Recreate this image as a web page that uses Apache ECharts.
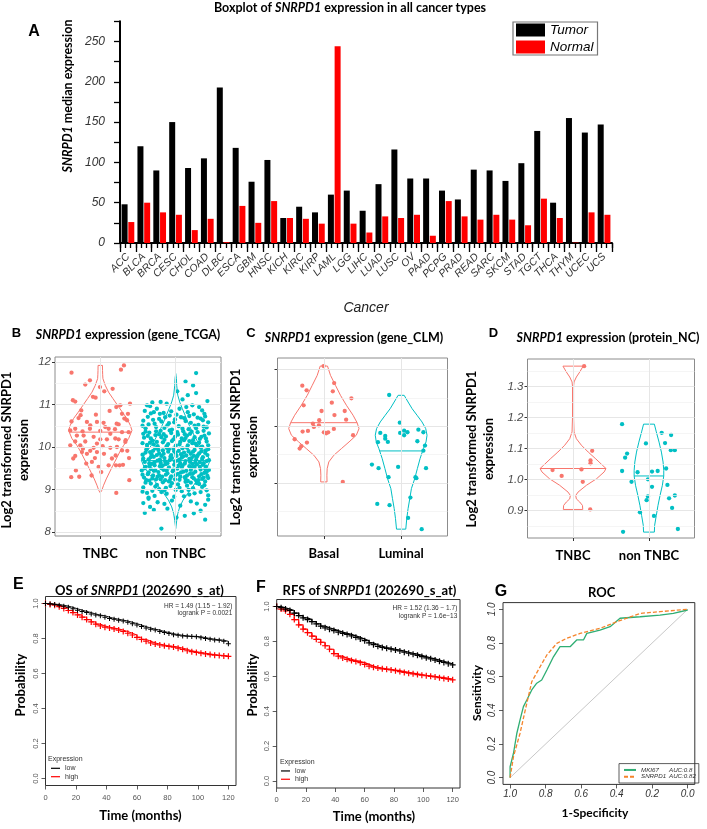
<!DOCTYPE html>
<html><head><meta charset="utf-8">
<script src="https://cdn.jsdelivr.net/npm/echarts@6/dist/echarts.min.js"></script>
<style>html,body{margin:0;padding:0;background:#fff}#c{width:707px;height:829px}</style>
</head><body><div id="c"></div><script>
// ---------- Panel A ----------
const cancerTypes = ['ACC','BLCA','BRCA','CESC','CHOL','COAD','DLBC','ESCA','GBM','HNSC','KICH','KIRC','KIRP','LAML','LGG','LIHC','LUAD','LUSC','OV','PAAD','PCPG','PRAD','READ','SARC','SKCM','STAD','TGCT','THCA','THYM','UCEC','UCS'];
const tumorMedian = [48,120,90,150,93,105,193,118,76,103,31,45,38,60,65,40,73,116,80,80,65,54,91,90,77,99,139,50,155,137,147];
const normalMedian = [26,50,38,35,16,30,1,46,25,52,31,30,24,244,24,13,33,31,35,9,52,33,29,35,29,22,55,31,0.5,38,35];

// ---------- Panel B (gene_TCGA) ----------
const tcgaGroups = ['TNBC','non TNBC'];
const tcgaTnbcMedian = 10.35, tcgaNonTnbcMedian = 9.68;
const tcgaTnbcViolin = [[11.92,0.029],[11.8,0.03],[11.7,0.032],[11.61,0.035],[11.45,0.066],[11.29,0.11],[11.14,0.168],[10.98,0.23],[10.82,0.292],[10.67,0.354],[10.51,0.398],[10.39,0.42],[10.2,0.376],[10.04,0.31],[9.88,0.257],[9.72,0.212],[9.57,0.168],[9.41,0.124],[9.25,0.08],[9.1,0.044],[8.98,0.02],[8.92,0]];
const tcgaNonTnbcViolin = [[11.73,0],[11.61,0.009],[11.45,0.013],[11.22,0.027],[11.06,0.053],[10.9,0.088],[10.75,0.124],[10.59,0.159],[10.43,0.2],[10.28,0.243],[10.12,0.292],[9.96,0.354],[9.8,0.42],[9.69,0.456],[9.53,0.42],[9.37,0.354],[9.22,0.288],[9.06,0.221],[8.9,0.155],[8.75,0.097],[8.59,0.053],[8.43,0.027],[8.27,0.013],[8.08,0]];
const tcgaTnbcPoints = [[0.314,11.92],[0.274,11.82],[-0.381,11.75],[-0.199,11.47],[-0.004,11.41],[0.164,11.37],[-0.097,11.18],[-0.062,11.16],[-0.363,11.1],[-0.332,11.07],[0.053,11.31],[0.394,11.02],[0.265,10.98],[0.212,10.94],[-0.252,10.86],[0.124,10.85],[-0.058,10.76],[0.288,10.78],[0.367,10.78],[-0.261,10.75],[-0.288,10.68],[0.354,10.63],[-0.381,10.6],[0.319,10.67],[-0.177,10.59],[-0.044,10.59],[0.044,10.57],[0.217,10.55],[0.243,10.53],[-0.332,10.43],[-0.137,10.43],[0.111,10.43],[-0.398,10.39],[-0.235,10.37],[0,10.38],[0.288,10.35],[0.195,10.42],[-0.31,10.27],[-0.088,10.24],[0,10.18],[0.088,10.18],[0.199,10.2],[0.243,10.18],[0.336,10.16],[-0.199,10.13],[-0.332,10.13],[-0.044,10.08],[0.332,10.12],[-0.088,9.98],[0.031,10.02],[-0.23,9.96],[0.133,9.98],[-0.133,9.91],[0.288,9.92],[-0.243,9.88],[0.358,9.91],[0.049,9.84],[0.204,9.8],[-0.332,9.79],[-0.071,9.74],[-0.358,9.73],[0.381,9.74],[0.155,9.73],[-0.186,9.61],[0.208,9.57],[0.301,9.58],[0.257,9.57],[-0.022,9.53],[-0.323,9.45],[0.013,9.41],[-0.385,9.29],[-0.279,9.3],[-0.115,9.33],[0.385,9.22],[0.212,8.92],[-0.137,11.57],[-0.221,10.27],[0.133,10.31],[-0.133,10.51],[0.066,10.47],[-0.265,10.04],[0.221,10.0],[-0.044,9.88],[-0.177,9.84],[0.111,9.57],[-0.111,9.65],[-0.398,10.04],[0.376,10.35]];
const tcgaNonTnbcPoints = [
[0.27,11.74],[0.13,11.54],[0.23,11.45],[0.27,11.27],[0.16,11.22],[-0.38,10.98],[-0.2,11.06],[-0.34,10.96],[0.31,10.94],[0.14,10.94],[0.16,10.82],[-0.29,10.82],[0.38,10.78],[-0.12,11.02],[0.05,10.9],[-0.41,10.85],[0.42,11.08],[-0.06,10.84],[0.22,10.98],[-0.25,10.9],[0.35,10.86],[0.09,11.12],[-0.16,10.8],[0.02,11.31],[-0.31,11.05],
[-0.43,10.62],[-0.37,10.71],[-0.28,10.55],[-0.22,10.66],[-0.15,10.45],[-0.08,10.74],[-0.02,10.58],[0.04,10.49],[0.11,10.68],[0.17,10.42],[0.24,10.77],[0.3,10.52],[0.36,10.63],[0.41,10.46],[-0.4,10.44],[-0.33,10.79],[-0.19,10.6],[-0.11,10.51],[0.07,10.7],[0.2,10.57],[0.27,10.44],[0.39,10.72],[-0.26,10.47],[0.13,10.61],[-0.05,10.41],[0.33,10.67],[-0.36,10.53],[0.01,10.76],[0.25,10.5],[-0.14,10.7],[0.43,10.58],[-0.44,10.5],[0.09,10.43],[-0.21,10.78],[0.18,10.73],[-0.3,10.64],[0.37,10.48],[-0.09,10.56],[0.29,10.69],[-0.01,10.65],
[-0.42,10.22],[-0.38,10.05],[-0.35,10.34],[-0.31,10.15],[-0.27,10.28],[-0.24,10.02],[-0.2,10.38],[-0.17,10.11],[-0.13,10.25],[-0.1,10.07],[-0.06,10.33],[-0.03,10.18],[0.0,10.03],[0.03,10.29],[0.06,10.12],[0.1,10.37],[0.13,10.21],[0.16,10.04],[0.19,10.31],[0.23,10.16],[0.26,10.08],[0.29,10.35],[0.32,10.19],[0.35,10.01],[0.38,10.27],[0.41,10.13],[0.44,10.32],[-0.44,10.09],[-0.4,10.36],[-0.33,10.2],[-0.29,10.06],[-0.22,10.3],[-0.15,10.17],[-0.08,10.39],[-0.01,10.24],[0.05,10.06],[0.12,10.3],[0.18,10.14],[0.25,10.23],[0.31,10.1],[0.37,10.38],[0.43,10.04],[-0.37,10.26],[-0.25,10.12],[-0.12,10.02],[0.08,10.2],[0.21,10.36],[0.34,10.24],[-0.19,10.23],[0.15,10.27],[-0.05,10.14],[0.28,10.03],[-0.34,10.1],[0.4,10.2],[-0.26,10.37],[0.02,10.35],[-0.16,10.3],[0.22,10.09],[-0.43,10.31],[0.11,10.16],
[-0.44,9.82],[-0.41,9.65],[-0.39,9.94],[-0.36,9.71],[-0.34,9.88],[-0.31,9.61],[-0.29,9.77],[-0.27,9.97],[-0.24,9.68],[-0.22,9.85],[-0.2,9.63],[-0.17,9.92],[-0.15,9.74],[-0.13,9.6],[-0.1,9.89],[-0.08,9.69],[-0.06,9.81],[-0.03,9.96],[-0.01,9.66],[0.01,9.79],[0.04,9.91],[0.06,9.62],[0.08,9.75],[0.11,9.87],[0.13,9.67],[0.15,9.98],[0.18,9.72],[0.2,9.84],[0.22,9.6],[0.25,9.93],[0.27,9.7],[0.29,9.8],[0.32,9.64],[0.34,9.9],[0.36,9.76],[0.39,9.86],[0.41,9.67],[0.43,9.95],[-0.43,9.73],[-0.38,9.99],[-0.33,9.76],[-0.28,9.64],[-0.23,9.93],[-0.19,9.79],[-0.14,9.66],[-0.09,9.95],[-0.05,9.74],[0.0,9.86],[0.05,9.7],[0.09,9.97],[0.14,9.8],[0.19,9.65],[0.23,9.89],[0.28,9.77],[0.33,9.99],[0.37,9.62],[0.42,9.81],[-0.4,9.87],[-0.35,9.62],[-0.3,9.91],[-0.25,9.81],[-0.21,9.7],[-0.16,9.84],[-0.11,9.62],[-0.07,9.77],[-0.02,9.9],[0.03,9.68],[0.07,9.83],[0.12,9.61],[0.17,9.9],[0.21,9.74],[0.26,9.63],[0.31,9.85],[0.35,9.72],[0.4,9.92],[0.44,9.69],[-0.12,9.98],[0.1,9.78],[-0.32,9.83],[0.24,9.79],
[-0.45,9.45],[-0.42,9.28],[-0.4,9.53],[-0.37,9.36],[-0.35,9.21],[-0.33,9.48],[-0.3,9.33],[-0.28,9.57],[-0.26,9.24],[-0.23,9.41],[-0.21,9.55],[-0.18,9.3],[-0.16,9.46],[-0.14,9.22],[-0.11,9.38],[-0.09,9.52],[-0.07,9.27],[-0.04,9.43],[-0.02,9.58],[0.0,9.34],[0.02,9.49],[0.05,9.23],[0.07,9.4],[0.09,9.56],[0.12,9.29],[0.14,9.44],[0.16,9.2],[0.19,9.37],[0.21,9.51],[0.24,9.26],[0.26,9.42],[0.28,9.59],[0.31,9.31],[0.33,9.47],[0.35,9.25],[0.38,9.39],[0.4,9.54],[0.42,9.32],[0.44,9.46],[-0.44,9.35],[-0.39,9.22],[-0.34,9.58],[-0.29,9.44],[-0.24,9.3],[-0.19,9.5],[-0.13,9.35],[-0.08,9.2],[-0.03,9.47],[0.03,9.37],[0.08,9.52],[0.13,9.25],[0.18,9.55],[0.23,9.38],[0.27,9.21],[0.32,9.53],[0.37,9.28],[0.41,9.41],[-0.41,9.5],[-0.36,9.4],[-0.31,9.26],[-0.27,9.45],[-0.22,9.33],[-0.17,9.57],[-0.12,9.45],[-0.06,9.31],[-0.01,9.24],[0.04,9.56],[0.1,9.42],[0.15,9.33],[0.2,9.46],[0.25,9.53],[0.3,9.22],[0.34,9.36],[0.39,9.48],[0.43,9.27],[-0.2,9.24],[0.06,9.3],[-0.35,9.55],[0.22,9.29],[0.36,9.58],
[-0.43,9.05],[-0.38,8.92],[-0.33,9.14],[-0.28,8.85],[-0.22,9.01],[-0.17,9.17],[-0.12,8.9],[-0.07,9.08],[-0.02,8.83],[0.03,9.12],[0.08,8.96],[0.13,9.18],[0.18,8.88],[0.23,9.03],[0.28,9.15],[0.33,8.94],[0.38,9.1],[0.43,8.86],[-0.4,9.16],[-0.31,8.97],[-0.25,9.11],[-0.15,8.98],[-0.05,9.15],[0.05,9.04],[0.15,9.09],[0.25,8.91],[0.35,9.06],[0.41,8.98],[-0.36,8.81],[-0.19,8.94],[0.0,8.99],[0.11,8.84],[0.2,9.16],[0.31,9.13],[-0.09,9.19],[-0.27,9.07],[0.39,9.19],[-0.44,8.95],[0.17,8.99],[-0.13,9.04],
[-0.19,8.08],[0.39,8.29],[0.39,8.64],[-0.34,8.59],[-0.11,8.55],[0.28,8.67],[-0.36,8.78],[0.2,8.72],[-0.24,8.7],[0.06,8.62],[-0.41,8.45],[0.33,8.5],[0.12,8.38],[-0.05,8.74],[0.43,8.76],[-0.15,8.66],[0.24,8.44],[-0.29,8.52],[0.01,8.34],[-0.43,8.68]];
const tcgaTicks = [8,9,10,11,12];
const tcgaMinorGrid = [8.5,9.5,10.5,11.5];

// ---------- Panel C (gene_CLM) ----------
const clmGroups = ['Basal','Luminal'];
const clmBasalMedian = 8.065, clmLuminalMedian = 7.566;
const clmBasalViolin = [[9.065,0.047],[8.9,0.086],[8.725,0.15],[8.548,0.215],[8.372,0.292],[8.196,0.378],[8.065,0.43],[7.96,0.455],[7.843,0.42],[7.725,0.326],[7.607,0.227],[7.49,0.129],[7.372,0.064],[7.254,0.043],[7.137,0.039],[7.019,0.041]];
const clmLuminalViolin = [[8.548,0.039],[8.43,0.09],[8.312,0.142],[8.196,0.206],[8.078,0.27],[7.96,0.318],[7.843,0.335],[7.725,0.322],[7.607,0.288],[7.43,0.245],[7.254,0.21],[7.078,0.176],[6.901,0.133],[6.725,0.112],[6.548,0.09],[6.372,0.073],[6.185,0.06]];
const clmBasalPoints = [[-0.004,9.065],[-0.279,8.718],[-0.223,8.636],[0.133,8.765],[0.116,8.619],[0.356,8.495],[-0.262,8.372],[0.103,8.418],[-0.03,8.271],[0.137,8.2],[0.27,8.271],[-0.06,8.108],[0.288,8.118],[-0.142,8.048],[-0.064,8.019],[-0.129,7.99],[0.129,7.954],[-0.275,7.907],[-0.206,7.919],[0,7.895],[0.03,7.878],[0.056,7.895],[0.378,7.843],[-0.378,7.772],[-0.219,7.713],[-0.292,7.649],[-0.313,7.607],[0.245,7.019]];
const clmLuminalPoints = [[-0.155,8.554],[-0.017,8.065],[0.039,7.924],[-0.013,7.884],[0.082,7.896],[0.039,7.843],[0.223,7.942],[0.288,7.896],[-0.27,7.884],[-0.206,7.831],[-0.206,7.783],[-0.3,7.72],[-0.172,7.725],[0.21,7.737],[0.309,7.66],[0.288,7.571],[-0.378,7.325],[-0.292,7.261],[-0.039,7.284],[0.322,7.261],[-0.163,7.102],[0.185,7.102],[0.197,7.085],[0.12,6.742],[-0.309,6.631],[-0.15,6.608],[0.09,6.384],[0.266,6.185]];
const clmTicks = [7,8,9];
const clmMinorGrid = [6.5,7.5,8.5];

// ---------- Panel D (protein_NC) ----------
const rppaGroups = ['TNBC','non TNBC'];
const rppaTnbcMedian = 1.035, rppaNonTnbcMedian = 1.011;
const rppaTnbcViolin = [[1.365,0.133],[1.346,0.088],[1.33,0.044],[1.314,0.013],[1.3,0.007],[1.2,0.007],[1.153,0.013],[1.131,0.044],[1.11,0.11],[1.088,0.2],[1.066,0.3],[1.045,0.39],[1.035,0.434],[1.024,0.41],[1.002,0.31],[0.981,0.177],[0.959,0.066],[0.948,0.035],[0.937,0.044],[0.927,0.088],[0.916,0.124],[0.903,0.128]];
const rppaNonTnbcViolin = [[1.178,0.071],[1.153,0.097],[1.12,0.133],[1.088,0.164],[1.056,0.186],[1.029,0.195],[1.011,0.195],[0.981,0.177],[0.948,0.146],[0.916,0.119],[0.884,0.097],[0.852,0.075],[0.83,0.071]];
const rppaTnbcPoints = [[0.146,1.365],[0.252,1.092],[0.23,1.061],[0.23,1.052],[-0.27,1.03],[0.111,1.032],[-0.15,1.011],[0.128,0.992],[0.226,0.903]];
const rppaNonTnbcPoints = [[-0.354,1.178],[0.292,1.143],[0.168,1.15],[0.212,1.117],[-0.04,1.116],[0.288,1.094],[0.341,1.094],[-0.288,1.083],[-0.314,1.07],[0.226,1.035],[-0.354,1.027],[-0.15,1.023],[0.04,1.025],[0.115,1.027],[-0.23,0.992],[-0.013,1.0],[0.243,0.982],[0.04,0.976],[0.341,0.948],[-0.013,0.945],[0.265,0.939],[-0.031,0.933],[0.305,0.908],[-0.119,0.894],[0.066,0.882],[-0.341,0.831],[0.381,0.84]];
const rppaTicks = [0.9,1.0,1.1,1.2,1.3];
const rppaMinorGrid = [0.85,0.95,1.05,1.15,1.25,1.35];

// ---------- Panels E, F (Kaplan-Meier) ----------
const osLow = [[0,1],[3,0.997],[6,0.994],[9,0.99],[12,0.985],[15,0.978],[18,0.97],[21,0.962],[24,0.955],[27,0.948],[30,0.94],[33,0.934],[36,0.93],[39,0.922],[42,0.915],[45,0.91],[48,0.905],[51,0.9],[54,0.893],[57,0.885],[60,0.877],[63,0.868],[66,0.86],[69,0.853],[72,0.848],[75,0.84],[78,0.834],[81,0.828],[84,0.822],[87,0.818],[90,0.815],[93,0.813],[96,0.812],[99,0.81],[102,0.805],[105,0.8],[108,0.796],[111,0.792],[114,0.79],[117,0.784],[120,0.77]];
const osHigh = [[0,1],[3,0.995],[6,0.99],[9,0.982],[12,0.972],[15,0.96],[18,0.948],[21,0.935],[24,0.922],[27,0.908],[30,0.895],[33,0.882],[36,0.872],[39,0.865],[42,0.86],[45,0.855],[48,0.848],[51,0.84],[54,0.83],[57,0.82],[60,0.807],[63,0.795],[66,0.785],[69,0.775],[72,0.768],[75,0.763],[78,0.758],[81,0.755],[84,0.751],[87,0.745],[90,0.738],[93,0.73],[96,0.725],[99,0.72],[102,0.716],[105,0.712],[108,0.708],[111,0.705],[114,0.703],[117,0.7],[120,0.698]];
const rfsLow = [[0,1],[3,0.993],[6,0.985],[9,0.977],[12,0.962],[15,0.948],[18,0.935],[21,0.925],[24,0.913],[27,0.9],[30,0.888],[33,0.878],[36,0.87],[39,0.862],[42,0.853],[45,0.846],[48,0.84],[51,0.832],[54,0.823],[57,0.814],[60,0.804],[63,0.792],[66,0.781],[69,0.772],[72,0.765],[75,0.76],[78,0.755],[81,0.75],[84,0.745],[87,0.738],[90,0.732],[93,0.727],[96,0.72],[99,0.713],[102,0.706],[105,0.7],[108,0.693],[111,0.686],[114,0.679],[117,0.672],[120,0.665]];
const rfsHigh = [[0,1],[3,0.985],[6,0.975],[9,0.955],[12,0.925],[15,0.895],[18,0.87],[21,0.85],[24,0.83],[27,0.812],[30,0.795],[33,0.775],[36,0.755],[39,0.73],[42,0.715],[45,0.705],[48,0.697],[51,0.69],[54,0.685],[57,0.678],[60,0.668],[63,0.658],[66,0.652],[69,0.647],[72,0.643],[75,0.64],[78,0.636],[81,0.632],[84,0.627],[87,0.622],[90,0.618],[93,0.614],[96,0.61],[99,0.606],[102,0.603],[105,0.6],[108,0.596],[111,0.592],[114,0.588],[117,0.584],[120,0.58]];
const timeTicks = [0,20,40,60,80,100,120];
const probTicks = [0,0.2,0.4,0.6,0.8,1.0];
const osStats = ['HR = 1.49 (1.15 \u2212 1.92)','logrank P = 0.0021'];
const rfsStats = ['HR = 1.52 (1.36 \u2212 1.7)','logrank P = 1.6e\u221213'];

// ---------- Panel G (ROC) ----------
const rocMki67 = [[1,0],[1,0.065],[0.981,0.145],[0.962,0.264],[0.944,0.343],[0.925,0.422],[0.906,0.461],[0.878,0.521],[0.85,0.561],[0.822,0.58],[0.793,0.64],[0.756,0.718],[0.719,0.778],[0.662,0.778],[0.625,0.818],[0.587,0.818],[0.568,0.857],[0.494,0.877],[0.437,0.897],[0.381,0.947],[0.268,0.956],[0.156,0.966],[0.081,0.976],[0,0.996],[0,1]];
const rocSnrpd1 = [[1,0],[0.981,0.125],[0.944,0.264],[0.906,0.442],[0.878,0.57],[0.831,0.659],[0.793,0.729],[0.737,0.798],[0.681,0.828],[0.606,0.857],[0.494,0.887],[0.4,0.926],[0.268,0.976],[0.156,0.986],[0.006,1],[0,1]];
const rocChance = [[1,0],[0,1]];
const rocAuc = {MKI67:'0.8', SNRPD1:'0.82'};
const rocTicks = [0,0.2,0.4,0.6,0.8,1.0];

// ================= build =================
const RED = '#F8766D', TEAL = '#00BFC4';
const BOLD = 'Lato';
const ARIAL = 'Liberation Sans';
const plusSymbol = 'path://M2,0L3,0L3,2L5,2L5,3L3,3L3,5L2,5L2,3L0,3L0,2L2,2Z';

function near(list, v) { return list.some(t => Math.abs(t - v) < 1e-6); }
function halfWidthAt(shape, v) {
  for (let i = 0; i < shape.length - 1; i++) {
    const a = shape[i], b = shape[i + 1];
    if (v <= a[0] && v >= b[0]) { const t = (a[0] - v) / (a[0] - b[0]); return a[1] + t * (b[1] - a[1]); }
  }
  return 0;
}
function violinSeries(xi, yi, center, shape, median, color) {
  return {
    type: 'custom', xAxisIndex: xi, yAxisIndex: yi, silent: true, z: 3,
    data: [[center, median]],
    renderItem: function (params, api) {
      const right = shape.map(p => api.coord([center + p[1], p[0]]));
      const left = shape.slice().reverse().map(p => api.coord([center - p[1], p[0]]));
      const hw = halfWidthAt(shape, median);
      const a = api.coord([center - hw, median]), b = api.coord([center + hw, median]);
      return { type: 'group', children: [
        { type: 'polygon', shape: { points: right.concat(left) }, style: { fill: 'none', stroke: color, lineWidth: 1 } },
        { type: 'line', shape: { x1: a[0], y1: a[1], x2: b[0], y2: b[1] }, style: { stroke: color, lineWidth: 1 } }
      ]};
    }
  };
}
function pointSeries(xi, yi, center, pts, color) {
  return { type: 'scatter', xAxisIndex: xi, yAxisIndex: yi, silent: true, z: 4,
    symbolSize: 4.3, itemStyle: { color: color, opacity: 1 },
    data: pts.map(p => [center + p[0], p[1]]) };
}
function gridLineSeries(xi, yi, major, minor, vert) {
  const d = [];
  minor.forEach(v => d.push({ yAxis: v, lineStyle: { color: '#f1f1f1', width: 0.7, type: 'solid' } }));
  major.forEach(v => d.push({ yAxis: v, lineStyle: { color: '#e6e6e6', width: 1, type: 'solid' } }));
  vert.forEach(v => d.push({ xAxis: v, lineStyle: { color: '#e6e6e6', width: 1, type: 'solid' } }));
  return { type: 'scatter', xAxisIndex: xi, yAxisIndex: yi, data: [], silent: true, z: 1,
    markLine: { silent: true, symbol: ['none', 'none'], label: { show: false }, animation: false, data: d } };
}
function violinXAxis(gi, groups) {
  return { gridIndex: gi, type: 'value', min: 0.4, max: 2.6,
    axisLine: { show: false, onZero: false }, splitLine: { show: false },
    axisTick: { show: true, customValues: [1, 2], length: 3, lineStyle: { color: '#333' } },
    axisLabel: { customValues: [1, 2], formatter: v => (Math.abs(v - 1) < 1e-6 ? groups[0] : Math.abs(v - 2) < 1e-6 ? groups[1] : ''),
      fontFamily: BOLD, fontWeight: 'bold', fontSize: 13, color: '#000', margin: 11 } };
}
function violinYAxis(gi, min, max, ticks, showLabels) {
  return { gridIndex: gi, type: 'value', min: min, max: max,
    axisLine: { show: false, onZero: false }, splitLine: { show: false },
    axisTick: { show: true, customValues: ticks, length: 3, lineStyle: { color: '#333' } },
    axisLabel: { show: showLabels, customValues: ticks, formatter: v => (near(ticks, v) ? (ticks[0] < 2 ? v.toFixed(1) : String(v)) : ''),
      fontFamily: ARIAL, fontStyle: 'italic', fontSize: 11.5, color: '#4d4d4d', margin: 4 } };
}
function rAxisX(gi, min, max, ticks, fmt, italic, fs, inverse, margin) {
  return { gridIndex: gi, type: 'value', min: min, max: max, inverse: !!inverse,
    axisLine: { show: false, onZero: false }, splitLine: { show: false },
    axisTick: { show: true, customValues: ticks, length: 4, lineStyle: { color: '#333', width: 0.8 } },
    axisLabel: { customValues: ticks, formatter: v => (near(ticks, v) ? fmt(v) : ''), fontFamily: ARIAL,
      fontStyle: italic ? 'italic' : 'normal', fontSize: fs, color: italic ? '#333' : '#555', margin: margin } };
}
function rAxisY(gi, ticks, italic, fs, margin) {
  return { gridIndex: gi, type: 'value', min: -0.04, max: 1.04,
    axisLine: { show: false, onZero: false }, splitLine: { show: false },
    axisTick: { show: true, customValues: ticks, length: 4, lineStyle: { color: '#333', width: 0.8 } },
    axisLabel: { customValues: ticks, rotate: 90, formatter: v => (near(ticks, v) ? v.toFixed(1) : ''), fontFamily: ARIAL,
      fontStyle: italic ? 'italic' : 'normal', fontSize: fs, color: italic ? '#333' : '#555', margin: margin } };
}
function txt(x, y, text, o) {
  o = o || {};
  const st = { text: text, fill: o.color || '#000', fontSize: o.size || 13, fontWeight: o.weight || 'bold',
    fontStyle: o.style || 'normal', fontFamily: o.family || BOLD,
    align: o.align || 'center', verticalAlign: 'middle', textAlign: o.align || 'center', textVerticalAlign: 'middle' };
  if (o.lineHeight) st.lineHeight = o.lineHeight;
  if (o.rich) st.rich = o.rich;
  return { type: 'text', x: x, y: y, rotation: o.rot || 0, silent: true, z: 10, style: st };
}
const italicRich = s => ({ i: { fontStyle: 'italic', fontWeight: 'bold', fontFamily: BOLD, fontSize: s } });

const minorTickSlots = cancerTypes.flatMap(c => [c + '1', c + '2', c + '3']);

const option = {
  animation: false,
  backgroundColor: '#fff',
  grid: [
    { left: 120, top: 21.3, width: 492, height: 221.7 },
    { left: 55, top: 357, width: 166, height: 179, show: true, borderColor: '#8c8c8c', borderWidth: 1 },
    { left: 277.5, top: 358, width: 170, height: 178, show: true, borderColor: '#8c8c8c', borderWidth: 1 },
    { left: 527.5, top: 359, width: 167, height: 179, show: true, borderColor: '#8c8c8c', borderWidth: 1 },
    { left: 45.5, top: 596.5, width: 190.5, height: 189, show: true, borderColor: '#333', borderWidth: 1 },
    { left: 276.7, top: 599.5, width: 183.3, height: 188.5, show: true, borderColor: '#333', borderWidth: 1 },
    { left: 503, top: 602.6, width: 191.8, height: 181.8, show: true, borderColor: '#333', borderWidth: 1 }
  ],
  xAxis: [
    { gridIndex: 0, type: 'category', data: cancerTypes,
      axisLine: { lineStyle: { color: '#000', width: 2 } },
      axisTick: { show: true, length: 9, lineStyle: { color: '#000', width: 1.3 } },
      axisLabel: { interval: 0, rotate: 45, fontFamily: ARIAL, fontStyle: 'italic', fontSize: 10.5, color: '#333', margin: 12 } },
    { gridIndex: 0, type: 'category', data: minorTickSlots, position: 'bottom',
      axisLine: { show: false }, axisLabel: { show: false },
      axisTick: { show: true, interval: 0, length: 5, lineStyle: { color: '#000', width: 1.3 } } },
    violinXAxis(1, tcgaGroups),
    violinXAxis(2, clmGroups),
    violinXAxis(3, rppaGroups),
    rAxisX(4, 0, 125, timeTicks, v => String(v), false, 7.5, false, 8),
    rAxisX(5, 0, 125, timeTicks, v => String(v), false, 7.5, false, 8),
    rAxisX(6, -0.04, 1.04, rocTicks, v => v.toFixed(1), true, 10, true, 5)
  ],
  yAxis: [
    { gridIndex: 0, type: 'value', min: 0, max: 275, interval: 25,
      axisLine: { show: true, onZero: false, lineStyle: { color: '#000', width: 2 } },
      axisTick: { show: true, length: 6, lineStyle: { color: '#000', width: 1.3 } },
      splitLine: { show: false },
      axisLabel: { formatter: v => (v % 50 === 0 ? String(v) : ''), fontFamily: ARIAL, fontStyle: 'italic', fontSize: 12, color: '#333', margin: 15 } },
    violinYAxis(1, 7.906, 12.118, tcgaTicks, true),
    violinYAxis(2, 6.064, 9.207, clmTicks, false),
    violinYAxis(3, 0.811, 1.388, rppaTicks, true),
    rAxisY(4, probTicks, false, 7.5, 6),
    rAxisY(5, probTicks, false, 7.5, 6),
    rAxisY(6, rocTicks, true, 10, 6)
  ],
  legend: [
    { data: ['Tumor', 'Normal'], left: 513, top: 22, orient: 'vertical', icon: 'rect', itemWidth: 29, itemHeight: 13,
      itemGap: 3, padding: [1, 4, 1, 3], borderColor: '#777', borderWidth: 1.2, selectedMode: false,
      textStyle: { fontFamily: ARIAL, fontStyle: 'italic', fontSize: 13.5, color: '#000' } },
    { data: ['low', 'high'], left: 51, top: 764.1, orient: 'vertical', icon: 'rect', itemWidth: 9, itemHeight: 1.2,
      itemGap: 0, padding: 0, selectedMode: false, textStyle: { fontFamily: ARIAL, fontSize: 7, lineHeight: 8.4, color: '#333' } },
    { data: ['low', 'high'], left: 281, top: 766.8, orient: 'vertical', icon: 'rect', itemWidth: 9, itemHeight: 1.2,
      itemGap: 0, padding: 0, selectedMode: false, textStyle: { fontFamily: ARIAL, fontSize: 7, lineHeight: 8.3, color: '#333' } },
    { data: ['MKI67', 'SNRPD1'], left: 619, top: 763.6, orient: 'vertical', itemWidth: 12, itemHeight: 6,
      itemGap: 0, padding: [3, 3, 3, 4], borderColor: '#333', borderWidth: 0.8, selectedMode: false,
      itemStyle: { opacity: 0 },
      formatter: n => '{n|' + n + '}{a|AUC:' + rocAuc[n] + '}',
      textStyle: { fontFamily: ARIAL, fontStyle: 'italic', fontSize: 6.2, lineHeight: 6.7, color: '#333',
        rich: { n: { width: 28, fontFamily: ARIAL, fontStyle: 'italic', fontSize: 6.2, color: '#333' },
                a: { fontFamily: ARIAL, fontStyle: 'italic', fontSize: 6.2, color: '#333' } } } }
  ],
  series: [
    // A
    { name: 'Tumor', type: 'bar', xAxisIndex: 0, yAxisIndex: 0, data: tumorMedian, barWidth: 6, barGap: '12%', itemStyle: { color: '#000' } },
    { name: 'Normal', type: 'bar', xAxisIndex: 0, yAxisIndex: 0, data: normalMedian, barWidth: 6, barGap: '12%', itemStyle: { color: '#ff0000' } },
    // B
    gridLineSeries(2, 1, tcgaTicks, tcgaMinorGrid, [1, 2]),
    pointSeries(2, 1, 1, tcgaTnbcPoints, RED),
    pointSeries(2, 1, 2, tcgaNonTnbcPoints, TEAL),
    violinSeries(2, 1, 1, tcgaTnbcViolin, tcgaTnbcMedian, RED),
    violinSeries(2, 1, 2, tcgaNonTnbcViolin, tcgaNonTnbcMedian, TEAL),
    // C
    gridLineSeries(3, 2, clmTicks, clmMinorGrid, [1, 2]),
    pointSeries(3, 2, 1, clmBasalPoints, RED),
    pointSeries(3, 2, 2, clmLuminalPoints, TEAL),
    violinSeries(3, 2, 1, clmBasalViolin, clmBasalMedian, RED),
    violinSeries(3, 2, 2, clmLuminalViolin, clmLuminalMedian, TEAL),
    // D
    gridLineSeries(4, 3, rppaTicks, rppaMinorGrid, [1, 2]),
    pointSeries(4, 3, 1, rppaTnbcPoints, RED),
    pointSeries(4, 3, 2, rppaNonTnbcPoints, TEAL),
    violinSeries(4, 3, 1, rppaTnbcViolin, rppaTnbcMedian, RED),
    violinSeries(4, 3, 2, rppaNonTnbcViolin, rppaNonTnbcMedian, TEAL),
    // E
    { name: 'low', type: 'line', xAxisIndex: 5, yAxisIndex: 4, data: osLow, step: 'end', color: '#000',
      symbol: plusSymbol, symbolSize: 5, showSymbol: true, lineStyle: { width: 0.9, color: '#000' }, itemStyle: { color: '#000', borderWidth: 0 }, z: 4 },
    { name: 'high', type: 'line', xAxisIndex: 5, yAxisIndex: 4, data: osHigh, step: 'end', color: '#ff0000',
      symbol: plusSymbol, symbolSize: 6, showSymbol: true, lineStyle: { width: 1, color: '#ff0000' }, itemStyle: { color: '#ff0000', borderWidth: 0 }, z: 3 },
    // F
    { name: 'low', type: 'line', xAxisIndex: 6, yAxisIndex: 5, data: rfsLow, step: 'end', color: '#000',
      symbol: plusSymbol, symbolSize: 6, showSymbol: true, lineStyle: { width: 1.2, color: '#000' }, itemStyle: { color: '#000', borderWidth: 0 }, z: 4 },
    { name: 'high', type: 'line', xAxisIndex: 6, yAxisIndex: 5, data: rfsHigh, step: 'end', color: '#ff0000',
      symbol: plusSymbol, symbolSize: 6, showSymbol: true, lineStyle: { width: 1.2, color: '#ff0000' }, itemStyle: { color: '#ff0000', borderWidth: 0 }, z: 3 },
    // G
    { name: 'chance', type: 'line', xAxisIndex: 7, yAxisIndex: 6, data: rocChance, symbol: 'none', silent: true,
      lineStyle: { color: '#c8c8c8', width: 1 }, z: 2 },
    { name: 'MKI67', type: 'line', xAxisIndex: 7, yAxisIndex: 6, data: rocMki67, symbol: 'none', color: '#2fae73',
      lineStyle: { color: '#2fae73', width: 1.3 }, z: 3 },
    { name: 'SNRPD1', type: 'line', xAxisIndex: 7, yAxisIndex: 6, data: rocSnrpd1, symbol: 'none', color: '#f5842b',
      lineStyle: { color: '#f5842b', width: 1.3, type: [4, 2] }, z: 4 }
  ],
  graphic: [
    txt(34, 32, 'A', { size: 16, family: ARIAL }),
    txt(350, 8, 'Boxplot of {i|SNRPD1} expression in all cancer types', { size: 12.5, rich: italicRich(12.5) }),
    txt(68, 96, '{i|SNRPD1} median expression', { size: 12.5, rot: Math.PI / 2, rich: italicRich(12.5) }),
    txt(366, 308, 'Cancer', { size: 14, family: ARIAL, weight: 'normal', style: 'italic', color: '#222' }),
    txt(16.5, 333.5, 'B', { size: 13, family: ARIAL }),
    txt(128, 335, '{i|SNRPD1} expression (gene_TCGA)', { size: 12.5, rich: italicRich(12.5) }),
    txt(251, 333, 'C', { size: 13, family: ARIAL }),
    txt(354, 337.5, '{i|SNRPD1} expression (gene_CLM)', { size: 12.5, rich: italicRich(12.5) }),
    txt(493.5, 333.5, 'D', { size: 13, family: ARIAL }),
    txt(608, 338, '{i|SNRPD1} expression (protein_NC)', { size: 12.5, rich: italicRich(12.5) }),
    txt(15.5, 450, 'Log2 transformed SNRPD1\nexpression', { size: 13, rot: Math.PI / 2, lineHeight: 16.5 }),
    txt(244.5, 447, 'Log2 transformed SNRPD1\nexpression', { size: 13, rot: Math.PI / 2, lineHeight: 16.5 }),
    txt(480, 449, 'Log2 transformed SNRPD1\nexpression', { size: 13, rot: Math.PI / 2, lineHeight: 17 }),
    txt(18.3, 584.8, 'E', { size: 16, family: ARIAL }),
    txt(139.5, 591, 'OS of {i|SNRPD1} (202690_s_at)', { size: 13, rich: italicRich(13) }),
    txt(261, 587.5, 'F', { size: 16, family: ARIAL }),
    txt(369.5, 591, 'RFS of {i|SNRPD1} (202690_s_at)', { size: 13, rich: italicRich(13) }),
    txt(501, 591.7, 'G', { size: 16, family: ARIAL }),
    txt(601.7, 593, 'ROC', { size: 13 }),
    txt(20.7, 685, 'Probability', { size: 13, rot: Math.PI / 2 }),
    txt(140.5, 816, 'Time (months)', { size: 13 }),
    txt(253.3, 685, 'Probability', { size: 13, rot: Math.PI / 2 }),
    txt(374, 817, 'Time (months)', { size: 13 }),
    txt(476.7, 693, 'Sensitivity', { size: 12, rot: Math.PI / 2 }),
    txt(595, 813.3, '1-Specificity', { size: 12 }),
    txt(232.3, 606, osStats[0], { size: 6.5, family: ARIAL, weight: 'normal', align: 'right', color: '#333' }),
    txt(232.3, 613.3, osStats[1], { size: 6.5, family: ARIAL, weight: 'normal', align: 'right', color: '#333' }),
    txt(457.3, 608.3, rfsStats[0], { size: 6.5, family: ARIAL, weight: 'normal', align: 'right', color: '#333' }),
    txt(457.3, 616, rfsStats[1], { size: 6.5, family: ARIAL, weight: 'normal', align: 'right', color: '#333' }),
    txt(48, 759.3, 'Expression', { size: 7, family: ARIAL, weight: 'normal', align: 'left', color: '#333' }),
    txt(280, 761.7, 'Expression', { size: 7, family: ARIAL, weight: 'normal', align: 'left', color: '#333' })
  ]
};
const chart = echarts.init(document.getElementById('c'));
chart.setOption(option);
</script></body></html>
